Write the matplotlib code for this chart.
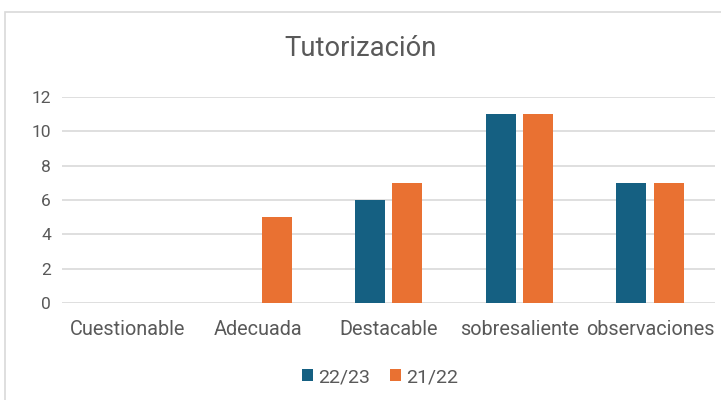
import numpy as np
import matplotlib.pyplot as plt
from matplotlib.patches import Rectangle

# data
categories = ["Cuestionable", "Adecuada", "Destacable", "sobresaliente", "observaciones"]
serie_2223 = [0, 0, 6, 11, 7]
serie_2122 = [0, 5, 7, 11, 7]
series_labels = ["22/23", "21/22"]
yticks = [0, 2, 4, 6, 8, 10, 12]

blue = "#156082"
orange = "#E97132"
grey_txt = "#595959"

plt.rcParams['font.family'] = ['Roboto', 'DejaVu Sans']

fig = plt.figure(figsize=(7.21, 4.0), dpi=100)
ax = fig.add_axes([0.086, 0.2425, 0.906, 0.515])

# chart border
fig.patches.append(Rectangle((5/721, -0.1), 1.0, 1 - 12/400 + 0.1,
                             transform=fig.transFigure, fill=False,
                             edgecolor="#d9d9d9", linewidth=1.2))

x = np.arange(len(categories))
w = 0.23
gap = 0.028
ax.bar(x - w/2 - gap, serie_2223, w, color=blue, label=series_labels[0], zorder=3)
ax.bar(x + w/2 + gap, serie_2122, w, color=orange, label=series_labels[1], zorder=3)

ax.set_xlim(-0.5, len(categories) - 0.5)
ax.set_ylim(0, 12)
ax.set_yticks(yticks)
ax.set_xticks(x)
ax.set_xticklabels(categories)
ax.grid(axis="y", color="#d9d9d9", linewidth=1.2, zorder=0)
for s in ax.spines.values():
    s.set_visible(False)
ax.tick_params(axis="y", length=0, labelsize=12.5, colors=grey_txt, pad=8)
ax.tick_params(axis="x", length=0, labelsize=14.3, colors=grey_txt, pad=12)

fig.text(0.5, 0.878, "Tutorización", ha="center", va="center",
         fontsize=19.7, color=grey_txt)

ax.legend(loc="center", bbox_to_anchor=(380/721, 1 - 377/400),
          bbox_transform=fig.transFigure, ncol=2, frameon=False,
          fontsize=14, handlelength=0.6, handleheight=0.6,
          handletextpad=0.25, columnspacing=1.0, labelcolor=grey_txt)

fig.savefig("out.png", dpi=100)
